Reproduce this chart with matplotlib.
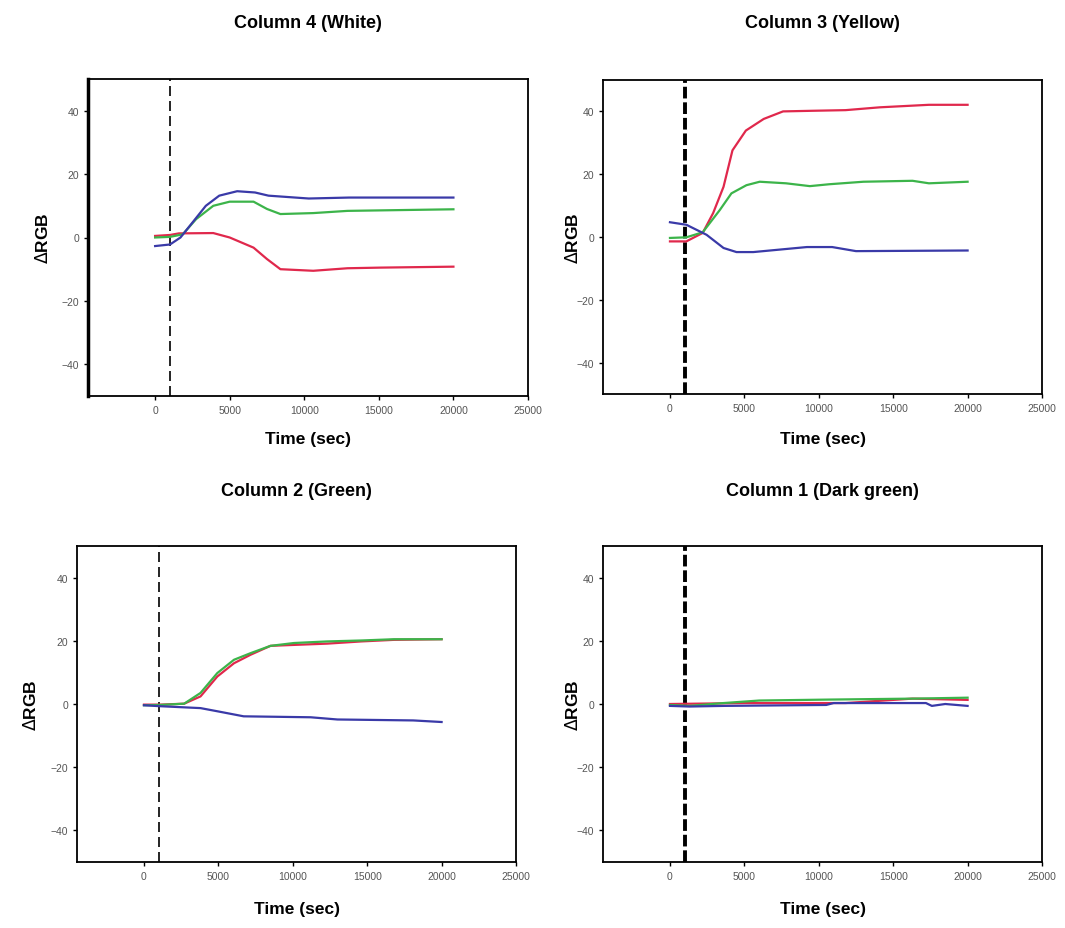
import numpy as np
import matplotlib
matplotlib.use('Agg')
import matplotlib.pyplot as plt

plt.rcParams['font.family'] = ['Liberation Sans', 'DejaVu Sans']

# ---- data (time in sec, delta RGB) ----
# Column 4 (White)
w_red_t   = [0, 1000, 1600, 3900, 5000, 6600, 7500, 8400, 10600, 12900, 15100, 20000]
w_red_v   = [0.5, 0.8, 1.3, 1.4, 0.0, -3.2, -6.8, -10.0, -10.5, -9.7, -9.5, -9.2]
w_grn_t   = [0, 1000, 1850, 2750, 3900, 5000, 6600, 7500, 8400, 10600, 12900, 20000]
w_grn_v   = [0.0, 0.2, 1.0, 5.8, 10.0, 11.3, 11.3, 9.0, 7.4, 7.7, 8.4, 8.9]
w_blu_t   = [0, 1000, 1700, 2500, 3400, 4300, 5500, 6700, 7600, 8500, 10300, 13000, 20000]
w_blu_v   = [-2.7, -2.2, 0.0, 4.7, 10.0, 13.2, 14.6, 14.2, 13.2, 12.9, 12.3, 12.6, 12.6]

# Column 3 (Yellow)
y_red_t   = [0, 1100, 2200, 2900, 3600, 4200, 5100, 6300, 7600, 9600, 11800, 14100, 17400, 20000]
y_red_v   = [-1.4, -1.4, 1.3, 7.6, 16.0, 27.6, 33.9, 37.6, 40.0, 40.2, 40.4, 41.3, 42.1, 42.1]
y_grn_t   = [0, 1100, 2200, 3350, 4130, 5140, 6030, 7800, 9400, 10700, 13000, 16300, 17400, 20000]
y_grn_v   = [-0.3, -0.1, 1.5, 8.6, 13.9, 16.5, 17.6, 17.1, 16.2, 16.8, 17.6, 17.9, 17.1, 17.6]
y_blu_t   = [0, 1100, 2460, 3600, 4470, 5600, 7400, 9200, 10900, 12500, 20000]
y_blu_v   = [4.7, 3.9, 0.7, -3.5, -4.8, -4.8, -4.0, -3.2, -3.2, -4.5, -4.3]

# Column 2 (Green)
g_red_t   = [0, 1100, 2700, 3800, 4930, 6050, 7170, 8500, 10080, 12300, 14600, 16800, 20000]
g_red_v   = [-0.2, -0.2, 0.1, 2.4, 8.7, 12.9, 15.6, 18.4, 18.7, 19.1, 19.8, 20.3, 20.5]
g_grn_t   = [0, 1100, 2700, 3800, 4930, 6050, 7170, 8500, 10080, 12300, 14600, 16800, 20000]
g_grn_v   = [-0.4, -0.3, 0.1, 3.5, 9.8, 14.0, 16.1, 18.4, 19.3, 19.8, 20.1, 20.5, 20.5]
g_blu_t   = [0, 1100, 3800, 4930, 6700, 11200, 13000, 18100, 20000]
g_blu_v   = [-0.4, -0.7, -1.3, -2.3, -3.9, -4.2, -4.9, -5.2, -5.7]

# Column 1 (Dark green)
d_red_t   = [0, 5100, 11800, 16300, 20000]
d_red_v   = [0.0, 0.3, 0.3, 1.7, 1.3]
d_grn_t   = [0, 1300, 3600, 6000, 10700, 16300, 20000]
d_grn_v   = [-0.3, -0.6, 0.3, 1.1, 1.4, 1.7, 2.0]
d_blu_t   = [0, 1300, 3600, 10500, 11000, 17200, 17600, 18500, 20000]
d_blu_v   = [-0.6, -0.8, -0.6, -0.3, 0.3, 0.3, -0.6, 0.0, -0.6]

titles = ['Column 4 (White)', 'Column 3 (Yellow)', 'Column 2 (Green)', 'Column 1 (Dark green)']
series = [
    [(w_red_t, w_red_v), (w_grn_t, w_grn_v), (w_blu_t, w_blu_v)],
    [(y_red_t, y_red_v), (y_grn_t, y_grn_v), (y_blu_t, y_blu_v)],
    [(g_red_t, g_red_v), (g_grn_t, g_grn_v), (g_blu_t, g_blu_v)],
    [(d_red_t, d_red_v), (d_grn_t, d_grn_v), (d_blu_t, d_blu_v)],
]
colors = ['#e0284c', '#3cb44a', '#3a3aa8']
inject_t = 1000      # time of the dashed marker
dash_lw = [1.2, 2.8, 1.2, 2.8]

fig = plt.figure(figsize=(10.65, 9.29), dpi=100)
W, H = 1065., 929.
# axes boxes in pixels: left, top, right, bottom
boxes = [(88, 80, 528, 397), (603, 81, 1042, 395), (77, 547, 516, 863), (603, 547, 1042, 863)]
title_y = [23, 23, 492, 492]
ylab_x = [42, 572, 30, 572]     # pixel x of the y label centre
xlab_y = [440, 440, 910, 910]   # pixel y of the x label centre

for i, (l, t, r, b) in enumerate(boxes):
    ax = fig.add_axes([l/W, 1 - b/H, (r - l)/W, (b - t)/H])
    ax.axvline(inject_t, color='black', linestyle=(0, (6, 3)) if dash_lw[i] < 2 else (0, (3, 1)),
               linewidth=dash_lw[i], zorder=1)
    for (tt, vv), c in zip(series[i], colors):
        ax.plot(tt, vv, color=c, linewidth=1.6, zorder=2)
    ax.set_xlim(-4500, 25000)
    ax.set_ylim(-50, 50)
    ax.set_xticks([0, 5000, 10000, 15000, 20000, 25000])
    ax.set_yticks([-40, -20, 0, 20, 40])
    ax.tick_params(labelsize=7.5, labelcolor='#555555', length=3, width=1, direction='out')
    for s in ax.spines.values():
        s.set_linewidth(1.3)
    if i == 0:
        ax.spines['left'].set_linewidth(2.5)
    ax.set_xlabel('Time (sec)', fontsize=12.5, fontweight='bold')
    ax.set_ylabel(r'$\Delta$RGB', fontsize=12.5, fontweight='bold')
    ax.xaxis.set_label_coords(0.5, (b - xlab_y[i]) / (b - t))
    ax.yaxis.set_label_coords((ylab_x[i] - l) / (r - l), 0.5)
    ax.xaxis.label.set_va('center')
    ax.yaxis.label.set_va('center')
    fig.text((l + r) / 2 / W, 1 - title_y[i] / H, titles[i], ha='center', va='center',
             fontsize=13, fontweight='bold')

fig.savefig('out.png', dpi=100)
